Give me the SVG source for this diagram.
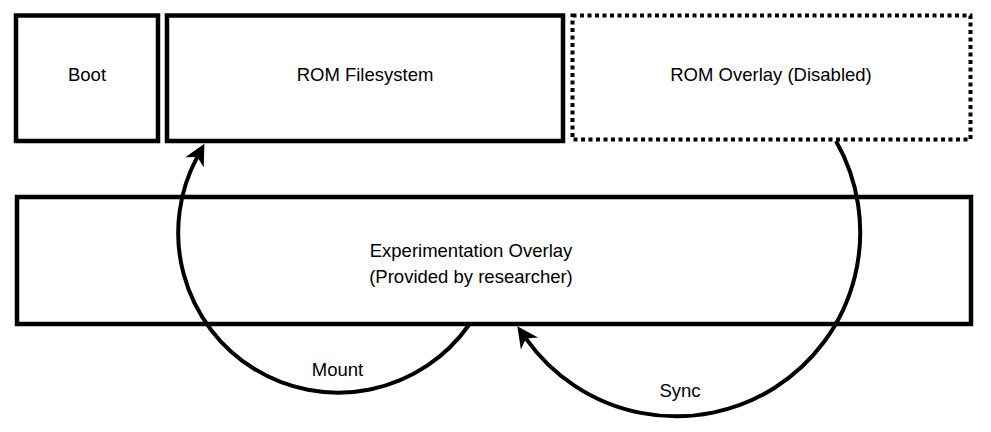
<svg xmlns="http://www.w3.org/2000/svg" width="991" height="432" viewBox="0 0 991 432">
<style>
.box{fill:#fff;stroke:#000;stroke-width:4.5}
.dash{fill:#fff;stroke:#000;stroke-width:4;stroke-dasharray:4 3.5}
.lbl{font-family:"Liberation Sans",Arial,sans-serif;font-size:18.5px;fill:#000;text-anchor:middle}
.edge{fill:none;stroke:#000;stroke-width:4}
</style>
<defs>
<marker id="arr" markerUnits="userSpaceOnUse" viewBox="-7 -11 23 22" markerWidth="23" markerHeight="22" refX="0" refY="0" orient="auto">
<path d="M15,0 L-6,-10.5 L0,0 L-6,10.5 Z" fill="#000"/>
</marker>
</defs>
<rect width="991" height="432" fill="#fff"/>
<g id="boot">
<rect class="box" x="16" y="15.5" width="142" height="125.5"/>
<text class="lbl" x="87" y="80.5">Boot</text>
</g>
<g id="rom-filesystem">
<rect class="box" x="167" y="15.5" width="396" height="125.5"/>
<text class="lbl" x="365" y="80.5">ROM Filesystem</text>
</g>
<g id="rom-overlay">
<rect class="dash" x="572.5" y="15.5" width="398" height="124"/>
<text class="lbl" x="771" y="80.5">ROM Overlay (Disabled)</text>
</g>
<g id="experimentation-overlay">
<rect class="box" x="17" y="197" width="954" height="127"/>
<text class="lbl" x="471" y="256.5">Experimentation Overlay</text>
<text class="lbl" x="471" y="282.5">(Provided by researcher)</text>
</g>
<g id="connectors">
<g id="mount">
<path class="edge" d="M468.9,325 A160,160 0 0 1 197.3,156.9" marker-end="url(#arr)"/>
<text class="lbl" x="337.5" y="376">Mount</text>
</g>
<g id="sync">
<path class="edge" d="M836,141.1 A184,184 0 0 1 526,338.6" marker-end="url(#arr)"/>
<text class="lbl" x="680" y="397">Sync</text>
</g>
</g>
</svg>
